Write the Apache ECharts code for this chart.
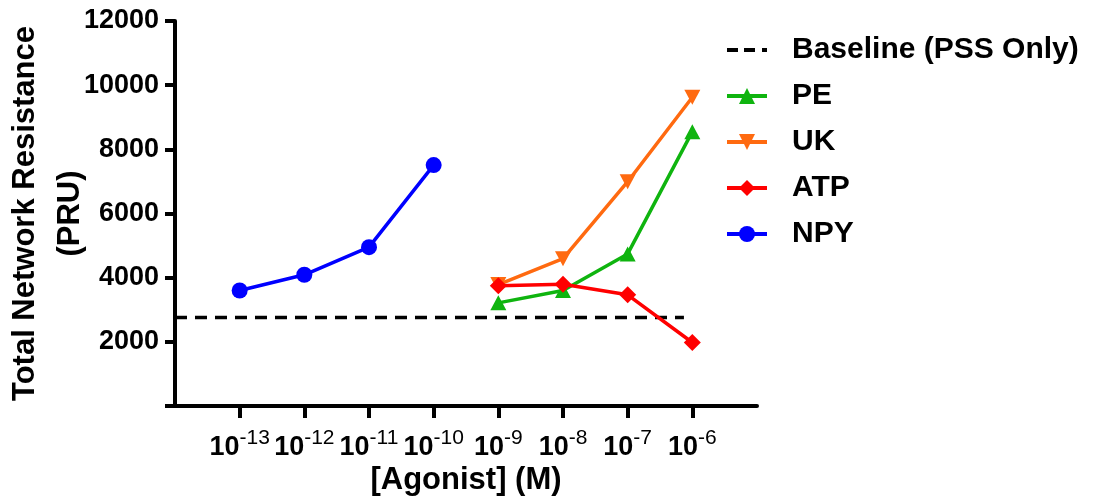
<!DOCTYPE html>
<html>
<head>
<meta charset="utf-8">
<script src="https://cdn.jsdelivr.net/npm/echarts@6/dist/echarts.min.js"></script>
<style>
  html, body { margin: 0; padding: 0; background: #fff; }
  #chart { width: 1101px; height: 502px; }
</style>
</head>
<body>
<div id="chart"></div>
<script>
// log10 of agonist concentration (M)
const tickExps = [-13, -12, -11, -10, -9, -8, -7, -6];

const npyX = [-13, -12, -11, -10];
const npyY = [3600, 4090, 4950, 7510];

const agoX = [-9, -8, -7, -6];
const peY = [3215, 3600, 4740, 8550];
const ukY = [3785, 4590, 6990, 9625];
const atpY = [3745, 3795, 3465, 1980];

const baseX = [-14, -6.13];
const baseY = 2757;

const font = "Arial, 'Liberation Sans', sans-serif";

function pairs(xs, ys) {
  return xs.map((x, i) => [x, ys[i]]);
}

let chart = echarts.init(document.getElementById('chart'));

chart.setOption({
  animation: false,
  textStyle: {fontFamily: font},
  grid: {
    left: 175,
    right: 344,
    top: 21,
    bottom: 96,
    outerBoundsMode: 'none'
  },
  legend: {
    left: 720,
    top: 29,
    orient: 'vertical',
    itemWidth: 40,
    itemHeight: 20,
    itemGap: 14,
    lineStyle: {width: 4},
    textStyle: {
      fontFamily: font,
      fontSize: 30,
      fontWeight: 'bold',
      color: '#000',
      lineHeight: 32,
      padding: [0, 0, 0, 20]
    },
    data: [
      {
        name: 'Baseline (PSS Only)',
        // dashed line legend key
        icon: 'path://M0,0h11v4H0z M17,0h11v4h-11z M35,0h5v4h-5z',
        itemStyle: {color: '#000'}
      },
      'PE', 'UK', 'ATP', 'NPY'
    ]
  },
  xAxis: {
    type: 'value',
    min: -14,
    max: -5,
    interval: 1,
    name: '[Agonist] (M)',
    nameLocation: 'middle',
    nameGap: 57,
    nameMoveOverlap: false,
    nameTextStyle: {fontSize: 31, fontWeight: 'bold', color: '#000', lineHeight: 34},
    splitLine: {show: false},
    axisLine: {lineStyle: {color: '#000', width: 4}},
    axisTick: {
      customValues: tickExps,
      length: 12,
      lineStyle: {color: '#000', width: 4}
    },
    axisLabel: {
      customValues: tickExps,
      margin: 22,
      formatter: (v) => '{b|10}{s|-' + Math.abs(v) + '}',
      rich: {
        b: {fontSize: 27, fontWeight: 'bold', color: '#000', lineHeight: 40, fontFamily: font},
        s: {fontSize: 21, color: '#000', lineHeight: 21, verticalAlign: 'top', fontFamily: font}
      }
    }
  },
  yAxis: {
    type: 'value',
    min: 0,
    max: 12000,
    interval: 2000,
    name: 'Total Network Resistance\n(PRU)',
    nameLocation: 'middle',
    nameRotate: 90,
    nameGap: 82,
    nameMoveOverlap: false,
    nameTextStyle: {fontSize: 31, fontWeight: 'bold', color: '#000', lineHeight: 45, align: 'center'},
    splitLine: {show: false},
    axisLine: {show: true, lineStyle: {color: '#000', width: 4}},
    axisTick: {show: true, length: 10, lineStyle: {color: '#000', width: 4}},
    axisLabel: {
      margin: 16,
      fontSize: 27,
      fontWeight: 'bold',
      color: '#000',
      formatter: (v) => v === 0 ? '' : String(v)
    }
  },
  series: [
    {
      name: 'Baseline (PSS Only)',
      type: 'line',
      data: pairs(baseX, [baseY, baseY]),
      symbol: 'none',
      color: '#000',
      lineStyle: {color: '#000', width: 3.5, type: [12, 8]}
    },
    {
      name: 'PE',
      type: 'line',
      data: pairs(agoX, peY),
      symbol: 'triangle',
      symbolSize: [16, 15],
      color: '#0fb40f',
      itemStyle: {color: '#0fb40f'},
      lineStyle: {color: '#0fb40f', width: 3.5}
    },
    {
      name: 'UK',
      type: 'line',
      data: pairs(agoX, ukY),
      symbol: 'path://M0,0 L10,0 L5,9 Z',
      symbolSize: [16, 15],
      color: '#ff6a10',
      itemStyle: {color: '#ff6a10'},
      lineStyle: {color: '#ff6a10', width: 3.5}
    },
    {
      name: 'ATP',
      type: 'line',
      data: pairs(agoX, atpY),
      symbol: 'diamond',
      symbolSize: 17,
      color: '#ff0000',
      itemStyle: {color: '#ff0000'},
      lineStyle: {color: '#ff0000', width: 3.5}
    },
    {
      name: 'NPY',
      type: 'line',
      data: pairs(npyX, npyY),
      symbol: 'circle',
      symbolSize: 16,
      color: '#0000ff',
      itemStyle: {color: '#0000ff'},
      lineStyle: {color: '#0000ff', width: 3.5}
    }
  ]
});
</script>
</body>
</html>
